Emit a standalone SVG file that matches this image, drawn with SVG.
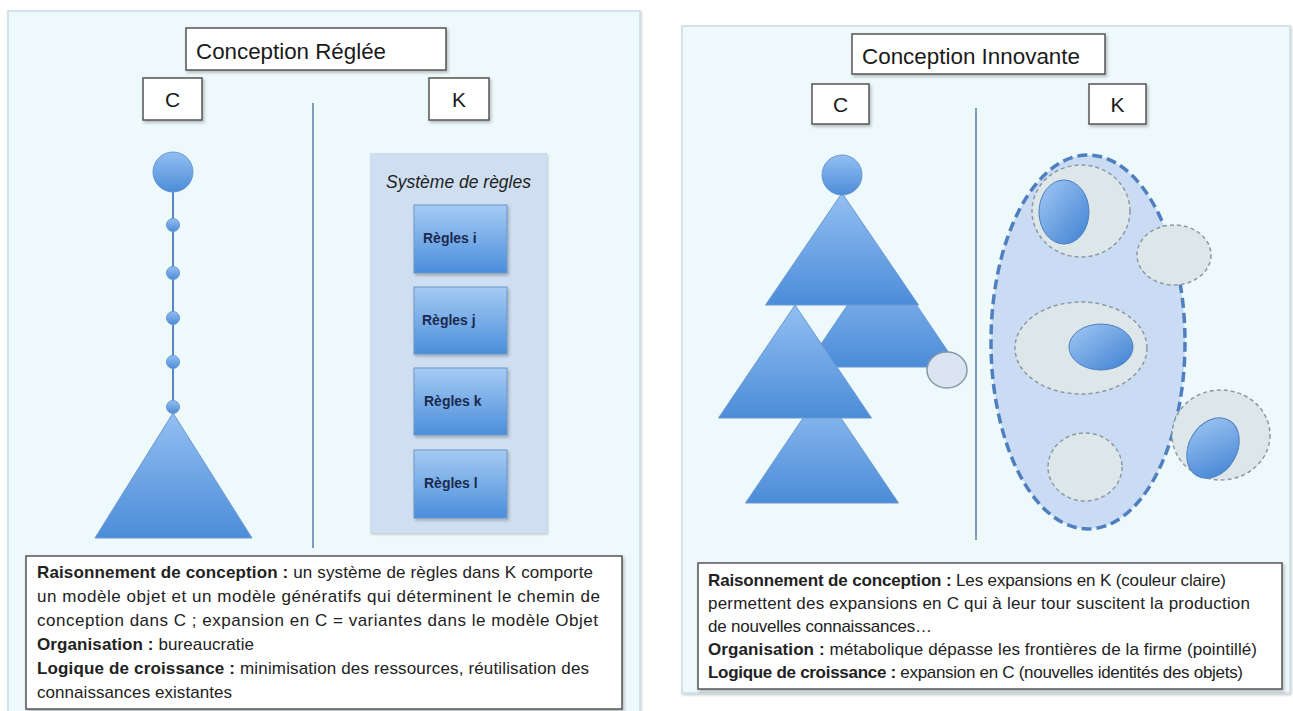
<svg xmlns="http://www.w3.org/2000/svg" width="1293" height="711" viewBox="0 0 1293 711">
<defs>
<linearGradient id="gBlue" x1="0" y1="0" x2="0" y2="1">
<stop offset="0" stop-color="#93bff2"/>
<stop offset="1" stop-color="#4c8cd8"/>
</linearGradient>
<linearGradient id="gBlueD" x1="0" y1="0" x2="1" y2="1">
<stop offset="0" stop-color="#a2c9f4"/>
<stop offset="1" stop-color="#3f80d2"/>
</linearGradient>
<linearGradient id="gRule" x1="0" y1="0" x2="0" y2="1">
<stop offset="0" stop-color="#a6cbf4"/>
<stop offset="1" stop-color="#4a8edb"/>
</linearGradient>
<filter id="sh" x="-10%" y="-10%" width="130%" height="130%">
<feDropShadow dx="1.5" dy="2" stdDeviation="1.5" flood-color="#000" flood-opacity="0.25"/>
</filter>
<filter id="shs" x="-10%" y="-10%" width="130%" height="130%">
<feDropShadow dx="1" dy="1.5" stdDeviation="1" flood-color="#000" flood-opacity="0.2"/>
</filter>
</defs>
<style>
.panel{fill:#eef9fc;stroke:#c9dbe3;stroke-width:1.5}
.box{fill:#ffffff;stroke:#555;stroke-width:1.5}
.title{font-family:"Liberation Sans",Arial,sans-serif;font-size:22px;fill:#1a1a1a}
.ck{font-family:"Liberation Sans",Arial,sans-serif;font-size:21px;fill:#1a1a1a;text-anchor:middle}
.body{font-family:"Liberation Sans",Arial,sans-serif;font-size:17px;fill:#222}
.b{font-weight:bold}
.blue{fill:url(#gBlue);stroke:#6a98cf;stroke-width:1}
.bluee{fill:url(#gBlueD);stroke:#4d7fbf;stroke-width:1}
.sep{stroke:#7f9cbf;stroke-width:2}
.kz{fill:#dde7ea;stroke:#8d9aa5;stroke-width:1.5;stroke-dasharray:4 3}
.rule{fill:url(#gRule);stroke:#6d95c4;stroke-width:1}
.rtxt{font-family:"Liberation Sans",Arial,sans-serif;font-size:14px;font-weight:bold;fill:#1b2a4e}
</style>
<rect width="1293" height="711" fill="#ffffff"/>

<g id="panel-reglee">
<rect class="panel" x="8" y="11" width="632" height="715" filter="url(#shs)"/>
</g>
<g id="panel-innovante">
<rect class="panel" x="682" y="26" width="608" height="667" filter="url(#shs)"/>
</g>

<g id="connectors">
<line class="sep" x1="313" y1="103" x2="313" y2="548"/>
<line class="sep" x1="976" y1="108" x2="976" y2="540"/>
<line x1="173" y1="180" x2="173" y2="413" stroke="#5a86c0" stroke-width="2"/>
</g>

<g id="title-reglee">
<rect class="box" x="186" y="28" width="260" height="42" filter="url(#sh)"/>
<text class="title" x="196" y="59" textLength="190" lengthAdjust="spacingAndGlyphs">Conception Réglée</text>
</g>
<g id="c-reglee">
<rect class="box" x="143" y="78" width="59" height="42" filter="url(#sh)"/>
<text class="ck" x="172.5" y="107">C</text>
</g>
<g id="k-reglee">
<rect class="box" x="429" y="78" width="60" height="42" filter="url(#sh)"/>
<text class="ck" x="459" y="107">K</text>
</g>

<g id="c-chain">
<circle class="blue" cx="173" cy="172" r="20"/>
<circle class="blue" cx="173" cy="225" r="6.5"/>
<circle class="blue" cx="173" cy="273" r="6.5"/>
<circle class="blue" cx="173" cy="318" r="6.5"/>
<circle class="blue" cx="173" cy="362" r="6.5"/>
<circle class="blue" cx="173" cy="407" r="6.5"/>
<polygon class="blue" points="173,413 95,538 252,538"/>
</g>

<g id="systeme-regles">
<rect x="370" y="153" width="177" height="380" fill="#cfdff1" filter="url(#shs)"/>
<text x="458.5" y="188" font-family="Liberation Sans, Arial, sans-serif" font-size="17.5" font-style="italic" fill="#222" text-anchor="middle">Système de règles</text>
</g>
<g id="regle-i">
<rect class="rule" x="414" y="205" width="93" height="68" filter="url(#sh)"/>
<text class="rtxt" x="423" y="243">Règles i</text>
</g>
<g id="regle-j">
<rect class="rule" x="414" y="287" width="93" height="67" filter="url(#sh)"/>
<text class="rtxt" x="422" y="325">Règles j</text>
</g>
<g id="regle-k">
<rect class="rule" x="414" y="368" width="93" height="67" filter="url(#sh)"/>
<text class="rtxt" x="424" y="406">Règles k</text>
</g>
<g id="regle-l">
<rect class="rule" x="414" y="450" width="93" height="68" filter="url(#sh)"/>
<text class="rtxt" x="424" y="488">Règles l</text>
</g>

<g id="texte-reglee">
<rect class="box" x="26" y="556" width="596" height="153" filter="url(#sh)"/>
<text class="body" x="37" y="578" textLength="556"><tspan class="b">Raisonnement de conception :</tspan> un système de règles dans K comporte</text>
<text class="body" x="37" y="602" textLength="563">un modèle objet et un modèle génératifs qui déterminent le chemin de</text>
<text class="body" x="37" y="626" textLength="561">conception dans C ; expansion en C = variantes dans le modèle Objet</text>
<text class="body" x="37" y="650" textLength="217"><tspan class="b">Organisation :</tspan> bureaucratie</text>
<text class="body" x="37" y="674" textLength="552"><tspan class="b">Logique de croissance :</tspan> minimisation des ressources, réutilisation des</text>
<text class="body" x="37" y="698" textLength="195">connaissances existantes</text>
</g>

<g id="title-innovante">
<rect class="box" x="852" y="34" width="253" height="40" filter="url(#sh)"/>
<text class="title" x="862" y="64" textLength="218" lengthAdjust="spacingAndGlyphs">Conception Innovante</text>
</g>
<g id="c-innovante">
<rect class="box" x="812" y="84" width="57" height="40" filter="url(#sh)"/>
<text class="ck" x="840.5" y="112">C</text>
</g>
<g id="k-innovante">
<rect class="box" x="1089" y="84" width="57" height="40" filter="url(#sh)"/>
<text class="ck" x="1117.5" y="112">K</text>
</g>

<g id="c-arbre">
<polygon class="blue" points="822,390 745.5,503 898.5,503"/>
<polygon class="blue" points="882,254 805.5,367 958.5,367"/>
<polygon class="blue" points="795,305 718.5,418 871.5,418"/>
<polygon class="blue" points="842,193 765.5,305 918.5,305"/>
<circle class="blue" cx="842" cy="175" r="20"/>
<ellipse cx="947" cy="370" rx="20" ry="18" fill="#dbe4f1" stroke="#8a97aa" stroke-width="1.5"/>
</g>

<g id="k-connaissances">
<ellipse cx="1088" cy="342" rx="97" ry="187" fill="#cadcf3" stroke="#4f7fbf" stroke-width="3.5" stroke-dasharray="10 5"/>
<ellipse class="kz" cx="1081" cy="211" rx="49" ry="46"/>
<ellipse class="bluee" cx="1064" cy="212" rx="25" ry="32"/>
<ellipse class="kz" cx="1174" cy="255" rx="37" ry="30"/>
<ellipse class="kz" cx="1081" cy="348" rx="66" ry="46"/>
<ellipse class="bluee" cx="1101" cy="347" rx="32" ry="23"/>
<ellipse class="kz" cx="1221" cy="435" rx="49" ry="45"/>
<ellipse class="bluee" cx="1213" cy="448" rx="24" ry="32" transform="rotate(30 1213 448)"/>
<ellipse class="kz" cx="1085" cy="467" rx="37" ry="34"/>
</g>

<g id="texte-innovante">
<rect class="box" x="698" y="563" width="584" height="126" filter="url(#sh)"/>
<text class="body" x="708" y="586" textLength="518"><tspan class="b">Raisonnement de conception :</tspan> Les expansions en K (couleur claire)</text>
<text class="body" x="708" y="609" textLength="542">permettent des expansions en C qui à leur tour suscitent la production</text>
<text class="body" x="708" y="632" textLength="224">de nouvelles connaissances…</text>
<text class="body" x="708" y="655" textLength="549"><tspan class="b">Organisation :</tspan> métabolique dépasse les frontières de la firme (pointillé)</text>
<text class="body" x="708" y="678" textLength="535"><tspan class="b">Logique de croissance :</tspan> expansion en C (nouvelles identités des objets)</text>
</g>
</svg>
